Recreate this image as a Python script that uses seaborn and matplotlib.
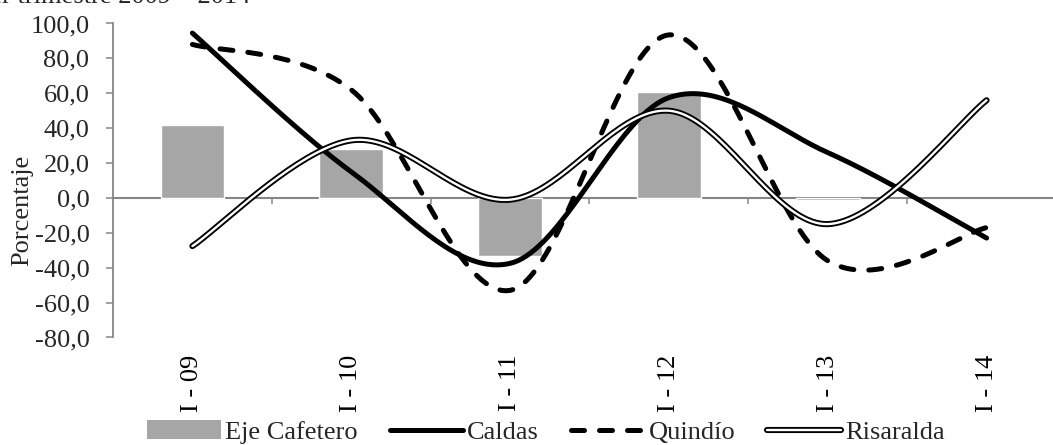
import numpy as np
import pandas as pd
import matplotlib
matplotlib.use('Agg')
import matplotlib.pyplot as plt
import seaborn as sns
from matplotlib.lines import Line2D
from matplotlib.patches import Patch
from matplotlib.ticker import FuncFormatter

# Datos (variacion % primer trimestre)
categorias = ['I - 09', 'I - 10', 'I - 11', 'I - 12', 'I - 13', 'I - 14']
eje_cafetero = [41.9, 28.2, -33.0, 60.9, -1.4, np.nan]
caldas = [94.5, 15.0, -37.5, 57.5, 26.0, -23.0]
quindio = [88.0, 62.0, -53.0, 93.5, -36.0, -17.0]
risaralda = [-27.6, 33.0, -1.0, 50.0, -15.0, 56.0]

GRIS = '#A6A6A6'
EJE = '#868686'
FS = 19


def suavizar(y, n=40):
    # curva suavizada tipo Excel (Bezier Catmull-Rom)
    x = np.arange(len(y), dtype=float)
    y = np.asarray(y, dtype=float)
    px = np.concatenate([[x[0]], x, [x[-1]]])
    py = np.concatenate([[y[0]], y, [y[-1]]])
    xs, ys = [], []
    t = np.linspace(0, 1, n)
    for i in range(1, len(px) - 2):
        p0 = np.array([px[i], py[i]])
        p3 = np.array([px[i + 1], py[i + 1]])
        c1 = p0 + (p3 - np.array([px[i - 1], py[i - 1]])) / 6
        c2 = p3 - (np.array([px[i + 2], py[i + 2]]) - p0) / 6
        b = (np.outer((1 - t) ** 3, p0) + np.outer(3 * (1 - t) ** 2 * t, c1)
             + np.outer(3 * (1 - t) * t ** 2, c2) + np.outer(t ** 3, p3))
        xs.extend(b[:, 0] if i == 1 else b[1:, 0])
        ys.extend(b[:, 1] if i == 1 else b[1:, 1])
    return np.array(xs), np.array(ys)


sns.set_theme(style='white')
plt.rcParams['font.family'] = ['Liberation Serif', 'DejaVu Serif']

fig = plt.figure(figsize=(10.53, 4.45), dpi=100)
ax = fig.add_axes([113 / 1053, 1 - 337.5 / 445, 953 / 1053, 314 / 445])

df = pd.DataFrame({'cat': categorias, 'val': eje_cafetero})
sns.barplot(data=df, x='cat', y='val', color=GRIS, saturation=1, width=0.4,
            ax=ax, zorder=2)

xs, ys = suavizar(caldas)
sns.lineplot(x=xs, y=ys, ax=ax, color='black', linewidth=3.6, zorder=4,
             solid_capstyle='round')
xs, ys = suavizar(quindio)
sns.lineplot(x=xs, y=ys, ax=ax, color='black', linewidth=3.6, zorder=4,
             linestyle=(0, (2.6, 3.0)), dash_capstyle='round')
xs, ys = suavizar(risaralda)
sns.lineplot(x=xs, y=ys, ax=ax, color='black', linewidth=4.4, zorder=5,
             solid_capstyle='round')
sns.lineplot(x=xs, y=ys, ax=ax, color='white', linewidth=1.7, zorder=6,
             solid_capstyle='round')

ax.set_xlim(-0.5, 5.5)
ax.set_ylim(-80, 100)
ax.set_yticks(np.arange(-80, 101, 20))
ax.yaxis.set_major_formatter(FuncFormatter(lambda v, p: f'{v:.1f}'.replace('.', ',')))
ax.set_xticks(range(len(categorias)))
ax.set_xticklabels(categorias, rotation=90)
ax.set_xlabel('')
ax.set_ylabel('')
ax.tick_params(axis='x', length=0, pad=12.5, labelsize=FS, colors='black')
ax.tick_params(axis='y', direction='out', length=5, width=1.1, color=EJE,
               pad=12, labelsize=FS, left=True)
for s in ['top', 'right', 'bottom']:
    ax.spines[s].set_visible(False)
ax.spines['left'].set_color(EJE)
ax.spines['left'].set_linewidth(1.3)
ax.grid(False)

# eje de categorias en cero
sec = ax.secondary_xaxis(80 / 180)
sec.set_xticks(np.arange(0.5, 5, 1))
sec.set_xticklabels([])
sec.tick_params(direction='out', length=4.5, width=1.1, color=EJE)
sec.spines['bottom'].set_color(EJE)
sec.spines['bottom'].set_linewidth(1.5)
sec.spines['bottom'].set_zorder(3)

fig.text(22 / 1053, 1 - 210 / 445, 'Porcentaje', rotation=90,
         ha='center', va='center', fontsize=FS)
# titulo recortado en la parte superior, como en el original
fig.text(250 / 1053, 1 - 3 / 445, 'Primer trimestre 2009 – 2014',
         ha='right', va='baseline', fontsize=FS)

handles = [
    Patch(facecolor=GRIS, edgecolor='none'),
    Line2D([], [], color='black', linewidth=3.6),
    Line2D([], [], color='black', linewidth=3.6, linestyle=(0, (2.6, 3.0)),
           dash_capstyle='round'),
    (Line2D([], [], color='black', linewidth=4.4),
     Line2D([], [], color='white', linewidth=1.7)),
]
labels = ['Eje Cafetero', 'Caldas', 'Quindío', 'Risaralda']
fig.legend(handles, labels, loc='center', bbox_to_anchor=(546 / 1053, 1 - 432 / 445),
           ncol=4, frameon=False, fontsize=FS, handlelength=2.8,
           handletextpad=0.15, columnspacing=1.2, borderpad=0, borderaxespad=0)

fig.savefig('out.png', dpi=100)
